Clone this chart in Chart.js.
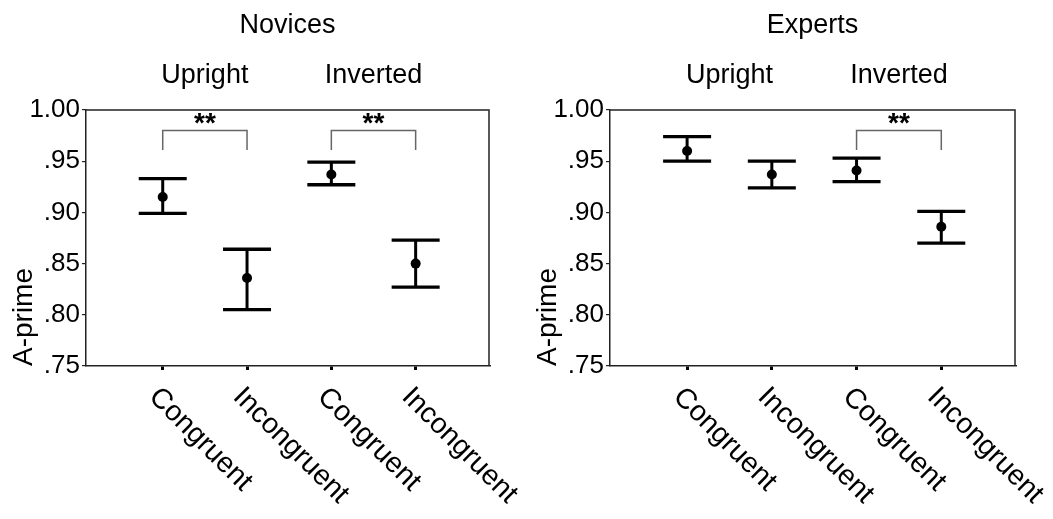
<!DOCTYPE html>
<html>
<head>
<meta charset="utf-8">
<script src="https://cdn.jsdelivr.net/npm/chart.js@4/dist/chart.umd.min.js"></script>
<style>
  html, body { margin: 0; padding: 0; background: #fff; }
  body { width: 1053px; height: 519px; position: relative; overflow: hidden; }
  .panel { position: absolute; top: 0; height: 519px; }
</style>
</head>
<body>
<div class="panel" style="left:0;width:524px"><canvas id="novices" width="524" height="519"></canvas></div>
<div class="panel" style="left:524px;width:529px"><canvas id="experts" width="529" height="519"></canvas></div>
<script>
// chart values
const categories = ['Congruent', 'Incongruent', 'Congruent', 'Incongruent'];
const positions = [1, 2, 3, 4];
const groups = ['Upright', 'Inverted'];
const groupCenters = [1.5, 3.5];
const panelTitles = ['Novices', 'Experts'];
const yTicks = [0.75, 0.80, 0.85, 0.90, 0.95, 1.00];

const noviceMean = [0.915, 0.836, 0.937, 0.850];
const noviceUpper = [0.933, 0.864, 0.949, 0.873];
const noviceLower = [0.899, 0.805, 0.927, 0.827];
const noviceSig = [[1, 2], [3, 4]];

const expertMean = [0.960, 0.937, 0.941, 0.886];
const expertUpper = [0.974, 0.950, 0.953, 0.901];
const expertLower = [0.950, 0.924, 0.930, 0.870];
const expertSig = [[3, 4]];

const sigTop = 0.980;
const sigDrop = 0.961;

const FONT = '"Liberation Sans", Arial, Helvetica, sans-serif';

// error bars, brackets, titles and rotated category labels
const extras = {
    id: 'extras',
    beforeDatasetsDraw(chart) {
        const ctx = chart.ctx, xs = chart.scales.x, ys = chart.scales.y;
        const p = chart.options.plugins.extras;
        ctx.save();
        ctx.strokeStyle = '#000';
        ctx.lineCap = 'butt';
        for (let i = 0; i < p.upper.length; i++) {
            const x = xs.getPixelForValue(positions[i]);
            const yu = ys.getPixelForValue(p.upper[i]);
            const yl = ys.getPixelForValue(p.lower[i]);
            ctx.lineWidth = 3;
            ctx.beginPath();
            ctx.moveTo(x, yu); ctx.lineTo(x, yl);
            ctx.stroke();
            ctx.lineWidth = 3.3;
            ctx.beginPath();
            ctx.moveTo(x - 24, yu); ctx.lineTo(x + 24, yu);
            ctx.moveTo(x - 24, yl); ctx.lineTo(x + 24, yl);
            ctx.stroke();
        }
        // significance brackets
        ctx.strokeStyle = '#666';
        ctx.lineWidth = 1.5;
        ctx.fillStyle = '#000';
        ctx.font = 'bold 28px ' + FONT;
        ctx.textAlign = 'center';
        ctx.textBaseline = 'alphabetic';
        const yt = ys.getPixelForValue(sigTop), yd = ys.getPixelForValue(sigDrop);
        for (const s of p.sig) {
            const x1 = xs.getPixelForValue(s[0]), x2 = xs.getPixelForValue(s[1]);
            ctx.beginPath();
            ctx.moveTo(x1, yd); ctx.lineTo(x1, yt); ctx.lineTo(x2, yt); ctx.lineTo(x2, yd);
            ctx.stroke();
            ctx.fillText('**', (x1 + x2) / 2, yt + 2);
        }
        ctx.restore();
    },
    afterDraw(chart) {
        const ctx = chart.ctx, xs = chart.scales.x;
        const a = chart.chartArea;
        const p = chart.options.plugins.extras;
        ctx.save();
        // frame top and right
        ctx.strokeStyle = '#222';
        ctx.lineWidth = 1.5;
        ctx.beginPath();
        ctx.moveTo(a.left, a.top); ctx.lineTo(a.right, a.top); ctx.lineTo(a.right, a.bottom);
        ctx.stroke();

        ctx.fillStyle = '#000';
        ctx.textAlign = 'center';
        ctx.font = '27px ' + FONT;
        ctx.fillText(p.title, (a.left + a.right) / 2, 33);
        for (let i = 0; i < groups.length; i++) {
            ctx.fillText(groups[i], xs.getPixelForValue(groupCenters[i]), 83);
        }

        ctx.font = '28.5px ' + FONT;
        ctx.textAlign = 'left';
        for (let i = 0; i < categories.length; i++) {
            const x = xs.getPixelForValue(positions[i]);
            ctx.save();
            ctx.translate(x - 15, a.bottom + 32);
            ctx.rotate(Math.PI / 4);
            ctx.fillText(categories[i], 0, 0);
            ctx.restore();
        }
        ctx.restore();
    }
};

function makePanel(id, title, mean, upper, lower, sig, padRight) {
    return new Chart(document.getElementById(id), {
        type: 'scatter',
        data: {
            datasets: [{
                data: positions.map((x, i) => ({ x: x, y: mean[i] })),
                pointRadius: 5,
                pointHoverRadius: 5,
                backgroundColor: '#000',
                borderColor: '#000',
                borderWidth: 0,
                showLine: false
            }]
        },
        options: {
            responsive: false,
            animation: false,
            events: [],
            layout: { padding: { top: 110, right: padRight, left: 0, bottom: 0 } },
            scales: {
                x: {
                    type: 'linear',
                    min: 0.09,
                    max: 4.87,
                    afterBuildTicks: (s) => { s.ticks = positions.map(v => ({ value: v })); },
                    afterFit: (s) => { s.height = 153; },
                    ticks: { display: false },
                    grid: { display: true, drawOnChartArea: false, drawTicks: true, tickLength: 4, color: '#000', lineWidth: 3 },
                    border: { display: true, color: '#222', width: 1.5 }
                },
                y: {
                    type: 'linear',
                    min: 0.75,
                    max: 1.0,
                    afterBuildTicks: (s) => { s.ticks = yTicks.map(v => ({ value: v })); },
                    afterFit: (s) => { s.width = 86; },
                    ticks: {
                        color: '#000',
                        padding: 2,
                        font: { family: FONT, size: 26 },
                        callback: (v) => { const t = v.toFixed(2); return t.startsWith('0') ? t.slice(1) : t; }
                    },
                    grid: { display: true, drawOnChartArea: false, drawTicks: true, tickLength: 4, color: '#222', lineWidth: 1.2 },
                    border: { display: true, color: '#222', width: 1.5 },
                    title: {
                        display: true,
                        text: 'A-prime',
                        align: 'start',
                        color: '#000',
                        font: { family: FONT, size: 28 },
                        padding: { top: 7, bottom: 0 }
                    }
                }
            },
            plugins: {
                legend: { display: false },
                tooltip: { enabled: false },
                extras: { title: title, upper: upper, lower: lower, sig: sig }
            }
        },
        plugins: [extras]
    });
}

makePanel('novices', panelTitles[0], noviceMean, noviceUpper, noviceLower, noviceSig, 35);
makePanel('experts', panelTitles[1], expertMean, expertUpper, expertLower, expertSig, 38);
</script>
</body>
</html>
